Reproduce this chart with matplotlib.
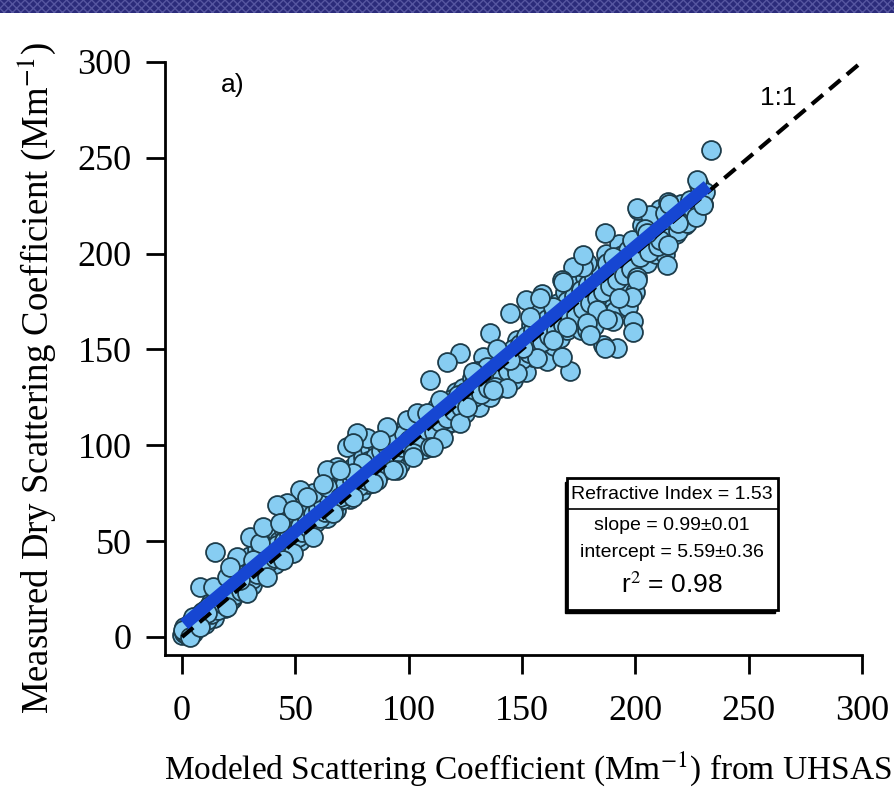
import matplotlib.pyplot as plt
from matplotlib.patches import Rectangle

# ---------------------------
# DATOS
# ---------------------------

# puntos destacados / dispersos
x_disp = [233.6, 227.2, 229.8, 214.4, 201.1, 206.4, 213.0, 218.8, 186.6, 198.5,
          204.2, 210.9, 214.4, 213.9, 201.0, 178.6, 187.5, 190.0, 201.0, 198.5,
          199.0, 199.0, 191.9, 185.7, 171.0, 144.7, 193.0, 190.0, 183.0, 178.6,
          169.8, 177.0, 172.5, 167.6, 159.0, 152.0, 153.5, 163.6, 135.9, 122.6,
          116.9, 109.4, 132.8, 147.8, 138.0, 130.0, 205.0, 215.0, 200.7,
          158.0, 168.0, 177.0, 187.5, 178.6, 180.0, 186.6, 167.6, 163.6, 156.6,
          150.4, 144.7, 139.0, 134.5, 128.4, 143.4, 137.2,
          99.2, 90.4, 81.6, 77.2, 72.8, 68.4, 64.0, 57.8, 52.0, 46.3,
          87.3, 94.8, 101.9, 109.4, 115.0, 103.7, 112.5, 122.6, 125.7, 86.0,
          79.8, 75.4, 64.0, 69.7,
          14.6, 41.9, 7.9, 13.7, 0.5, 3.5, 19.8, 24.3, 30.0, 34.4,
          35.7, 43.2, 49.0, 55.0, 62.0, 69.7, 75.4, 108.0, 113.8, 110.7,
          101.9, 93.0, 84.3, 75.4, 66.6, 57.8, 49.0, 44.6, 37.5, 28.7,
          19.8, 11.0, 4.9, 7.9, 25.6, 31.3, 21.2]
y_disp = [254.0, 238.4, 225.3, 226.9, 222.7, 220.0, 221.0, 216.0, 210.7, 207.0,
          213.0, 207.0, 204.5, 194.0, 187.8, 195.0, 195.0, 198.0, 186.0, 177.4,
          165.0, 159.0, 150.7, 152.3, 139.0, 169.0, 177.0, 165.0, 170.6, 160.0,
          161.7, 193.0, 193.0, 186.0, 179.0, 176.0, 167.0, 172.0, 158.6, 148.0,
          143.5, 134.0, 146.0, 137.7, 130.4, 139.0, 210.7, 226.0, 223.8,
          177.0, 185.0, 199.0, 166.0, 163.8, 157.5, 151.0, 146.0, 155.0, 145.5,
          151.0, 144.5, 150.0, 141.0, 138.0, 130.0, 129.0,
          113.0, 109.5, 104.0, 106.4, 99.0, 88.7, 87.0, 75.0, 76.7, 70.0,
          102.8, 87.0, 96.0, 99.0, 104.0, 116.8, 120.0, 111.6, 120.0, 82.0,
          90.8, 85.5, 78.0, 73.0,
          44.3, 68.9, 26.0, 26.0, 3.7, 0.0, 31.3, 41.7, 52.0, 49.0,
          57.4, 59.5, 66.0, 73.0, 80.0, 87.0, 101.0, 116.8, 123.6, 99.0,
          94.0, 87.0, 80.3, 73.0, 64.7, 52.0, 43.8, 40.0, 31.3, 23.0,
          15.6, 12.5, 10.4, 5.2, 29.7, 40.0, 36.5]

# puntos de la banda densa junto a la recta
x_banda = [1, 2, 2, 3, 4, 5, 6, 6, 8, 9, 10, 11, 12, 13, 15, 16, 17, 18, 20, 21,
           22, 23, 25, 26, 27, 28, 30, 31, 32, 33, 35, 36, 37, 38, 40, 41, 42, 43,
           45, 46, 47, 48, 50, 51, 52, 53, 55, 56, 58, 59, 60, 61, 62, 63, 65, 66,
           67, 68, 70, 71, 72, 73, 75, 76, 77, 78, 80, 81, 82, 83, 85, 86, 88, 89,
           90, 91, 92, 94, 95, 97, 98, 100, 101, 103, 104, 105, 106, 108, 110, 111,
           113, 114, 116, 117, 119, 120, 122, 123, 125, 126, 128, 129, 131, 132,
           134, 135, 137, 138, 140, 141, 143, 144, 146, 147, 149, 150, 152, 153,
           155, 156, 158, 159, 161, 162, 164, 165, 167, 168, 170, 171, 173, 174,
           176, 177, 179, 180, 182, 183, 185, 186, 188, 189, 191, 192, 194, 195,
           197, 198, 200, 202, 204, 206, 208, 210, 212, 214, 217, 219, 221, 223,
           225, 227, 229, 231]
y_banda = [2, 4, 1, 6, 3, 7, 9, 4, 10, 8, 14, 9, 16, 12, 18, 14, 21, 17, 23, 19,
           26, 22, 28, 24, 31, 27, 34, 30, 37, 33, 40, 36, 43, 39, 45, 41, 48, 44,
           50, 46, 53, 49, 56, 52, 58, 55, 61, 57, 64, 60, 67, 62, 70, 65, 72, 67,
           75, 70, 77, 72, 80, 74, 82, 77, 85, 79, 88, 82, 92, 85, 94, 87, 97, 90,
           100, 93, 104, 96, 102, 99, 106, 103, 99, 110, 105, 101, 112, 108, 114, 107,
           118, 112, 121, 114, 124, 118, 126, 120, 128, 122, 131, 125, 134, 127,
           137, 130, 140, 134, 143, 136, 147, 139, 150, 142, 153, 145, 157, 148,
           160, 151, 163, 154, 166, 157, 169, 160, 172, 163, 175, 166, 178, 168,
           181, 171, 184, 174, 187, 177, 190, 180, 193, 183, 196, 186, 199, 189,
           202, 192, 205, 198, 208, 201, 211, 204, 214, 208, 218, 212, 221, 216,
           224, 219, 228, 232]

# segunda banda, más abierta
x_banda2 = [0, 1, 3, 4, 5, 7, 7, 9, 10, 12, 13, 14, 15, 16, 18, 19, 19, 21, 22, 23,
            24, 25, 26, 27, 28, 29, 30, 31, 32, 33, 34, 35, 36, 37, 38, 39, 40, 41,
            42, 43, 44, 45, 46, 47, 48, 49, 50, 51, 52, 53, 54, 55, 56, 57, 58, 59,
            60, 61, 62, 63, 64, 65, 66, 67, 68, 69, 70, 71, 72, 73, 74, 75, 76, 77,
            78, 79, 80, 81, 82, 83, 84, 85, 86, 87, 88, 89, 90, 91, 92, 93, 94, 95,
            96, 97, 98, 99, 100, 102, 104, 105, 106, 107, 109, 110, 112, 113, 115,
            116, 118, 119, 121, 122, 124, 125, 127, 128, 130, 131, 133, 134, 136,
            137, 139, 140, 142, 143, 145, 146, 148, 149, 151, 152, 154, 155, 157,
            158, 160, 161, 163, 164, 166, 167, 169, 170, 172, 173, 175, 176, 178,
            179, 181, 182, 184, 185, 187, 188, 190, 191, 193, 194, 196, 197, 199,
            200, 203, 205, 207, 209, 211, 213, 216, 218, 220, 222, 224, 226, 228, 230]
y_banda2 = [1, 5, 2, 8, 2, 11, 6, 13, 7, 11, 18, 10, 22, 19, 24, 15, 27, 28, 20, 31,
            25, 35, 30, 38, 33, 36, 42, 27, 40, 46, 36, 47, 42, 35, 48, 44, 52, 38,
            54, 50, 42, 56, 52, 60, 46, 58, 62, 55, 50, 63, 58, 66, 54, 68, 60, 70,
            62, 72, 66, 74, 62, 70, 78, 72, 66, 80, 74, 84, 76, 82, 72, 88, 80, 92,
            84, 76, 94, 86, 80, 98, 90, 84, 100, 92, 86, 104, 95, 88, 98, 92, 106, 96,
            90, 104, 98, 110, 96, 106, 100, 114, 104, 98, 112, 104, 116, 106, 118,
            110, 122, 112, 128, 116, 130, 117, 124, 135, 128, 120, 140, 130, 125,
            144, 136, 130, 148, 136, 142, 134, 155, 140, 148, 138, 163, 146, 170,
            150, 158, 144, 165, 152, 174, 156, 180, 160, 186, 165, 176, 160, 188,
            168, 180, 162, 192, 175, 200, 178, 185, 170, 205, 182, 195, 172, 200,
            180, 215, 195, 218, 200, 223, 200, 222, 210, 226, 215, 228, 222, 236, 226]

# ajuste lineal
pendiente = 0.99
ordenada = 5.59
x_ajuste = [1, 232]

x_ticks = [0, 50, 100, 150, 200, 250, 300]
y_ticks = [0, 50, 100, 150, 200, 250, 300]

# ---------------------------
# GRAFICAR
# ---------------------------

plt.rcParams["font.family"] = "Liberation Serif"
plt.rcParams["mathtext.fontset"] = "stix"

fig = plt.figure(figsize=(8.94, 7.93), dpi=100)
ax = fig.add_axes([0.1846, 0.174, 0.7794, 0.748])

# franja superior
fig.patches.append(Rectangle((0, 1 - 13 / 793), 1, 13 / 793, transform=fig.transFigure,
                             facecolor="#2b2b7a", edgecolor="#5656a0", hatch="xxxx",
                             linewidth=0, zorder=0))

estilo = dict(s=185, facecolor="#87cdf2", edgecolor="#1d3c4a", linewidth=1.3, zorder=2)
ax.scatter(x_banda2, y_banda2, **estilo)
ax.scatter(x_banda, y_banda, **estilo)
ax.scatter(x_disp, y_disp, **estilo)

ax.plot([0, 300], [0, 300], color="black", linestyle=(0, (3.5, 2)), linewidth=3, zorder=3)
y_ajuste = [pendiente * x + ordenada for x in x_ajuste]
ax.plot(x_ajuste, y_ajuste, color="#1646d2", linewidth=9, solid_capstyle="butt", zorder=4)

ax.set_xlim(-7.5, 300)
ax.set_ylim(-9.4, 300)
ax.set_xticks(x_ticks)
ax.set_yticks(y_ticks)
ax.tick_params(direction="out", length=14, width=2, labelsize=26)
ax.tick_params(axis="x", pad=15)
ax.tick_params(axis="y", pad=10)
for lado in ["top", "right"]:
    ax.spines[lado].set_visible(False)
for lado in ["left", "bottom"]:
    ax.spines[lado].set_linewidth(2)

ax.set_xlabel(r"Modeled Scattering Coefficient (Mm$^{-1}$) from UHSAS", fontsize=24, labelpad=15)
ax.set_ylabel(r"Measured Dry Scattering Coefficient (Mm$^{-1}$)", fontsize=26.5, labelpad=14)
ax.xaxis.label.set_x(0.52)
ax.yaxis.label.set_y(0.467)

ax.text(17, 288, "a)", fontsize=19, family="Liberation Sans", ha="left", va="center")
ax.text(263, 281, "1:1", fontsize=19, family="Liberation Sans", ha="center", va="center")

# cuadro de estadísticas
ax.add_patch(Rectangle((0.574, 0.070), 0.302, 0.222, transform=ax.transAxes,
                       facecolor="black", edgecolor="black", zorder=5))
ax.add_patch(Rectangle((0.577, 0.076), 0.302, 0.222, transform=ax.transAxes,
                       facecolor="white", edgecolor="black", linewidth=2, zorder=6))
ax.plot([0.577, 0.879], [0.246, 0.246], transform=ax.transAxes, color="black",
        linewidth=1.2, zorder=7)
ax.text(0.728, 0.271, "Refractive Index = 1.53", transform=ax.transAxes, fontsize=14,
        family="Liberation Sans", ha="center", va="center", zorder=7)
ax.text(0.728, 0.219, "slope = 0.99±0.01", transform=ax.transAxes, fontsize=14,
        family="Liberation Sans", ha="center", va="center", zorder=7)
ax.text(0.728, 0.172, "intercept = 5.59±0.36", transform=ax.transAxes, fontsize=14,
        family="Liberation Sans", ha="center", va="center", zorder=7)
ax.text(0.728, 0.118, r"r$^{2}$ = 0.98", transform=ax.transAxes, fontsize=19,
        family="Liberation Sans", ha="center", va="center", zorder=7)

fig.savefig("out.png", dpi=100)
